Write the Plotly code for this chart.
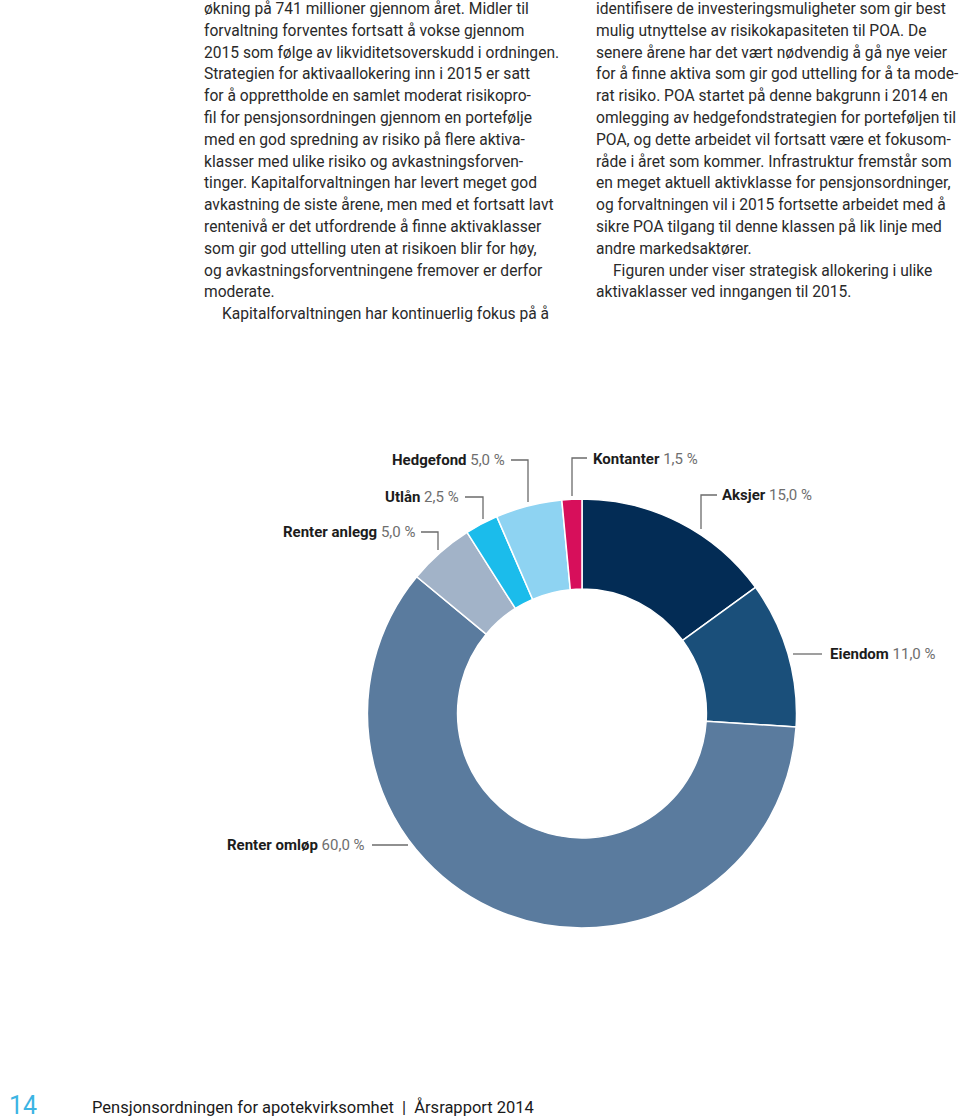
import plotly.graph_objects as go

W, H = 960, 1119

# allocation data
categories = ["Aksjer", "Eiendom", "Renter omløp", "Renter anlegg", "Utlån", "Hedgefond", "Kontanter"]
shares = [15.0, 11.0, 60.0, 5.0, 2.5, 5.0, 1.5]
colors = ["#032c55", "#1a4f7a", "#5a7b9e", "#a2b3c8", "#1bbceb", "#8ed3f2", "#d70f5b"]

left_col = [
    "økning på 741 millioner gjennom året. Midler til",
    "forvaltning forventes fortsatt å vokse gjennom",
    "2015 som følge av likviditetsoverskudd i ordningen.",
    "Strategien for aktivaallokering inn i 2015 er satt",
    "for å opprettholde en samlet moderat risikopro-",
    "fil for pensjonsordningen gjennom en portefølje",
    "med en god spredning av risiko på flere aktiva-",
    "klasser med ulike risiko og avkastningsforven-",
    "tinger. Kapitalforvaltningen har levert meget god",
    "avkastning de siste årene, men med et fortsatt lavt",
    "rentenivå er det utfordrende å finne aktivaklasser",
    "som gir god uttelling uten at risikoen blir for høy,",
    "og avkastningsforventningene fremover er derfor",
    "moderate.",
    "Kapitalforvaltningen har kontinuerlig fokus på å",
]
right_col = [
    "identifisere de investeringsmuligheter som gir best",
    "mulig utnyttelse av risikokapasiteten til POA. De",
    "senere årene har det vært nødvendig å gå nye veier",
    "for å finne aktiva som gir god uttelling for å ta mode-",
    "rat risiko. POA startet på denne bakgrunn i 2014 en",
    "omlegging av hedgefondstrategien for porteføljen til",
    "POA, og dette arbeidet vil fortsatt være et fokusom-",
    "råde i året som kommer. Infrastruktur fremstår som",
    "en meget aktuell aktivklasse for pensjonsordninger,",
    "og forvaltningen vil i 2015 fortsette arbeidet med å",
    "sikre POA tilgang til denne klassen på lik linje med",
    "andre markedsaktører.",
    "Figuren under viser strategisk allokering i ulike",
    "aktivaklasser ved inngangen til 2015.",
]
page_no = "14"
footer = "Pensjonsordningen for apotekvirksomhet  |  Årsrapport 2014"

# label placement (pixels): anchor x, y, side, leader polyline
label_pos = {
    "Aksjer": (720, 495, "left", [(717, 495), (701, 495), (701, 529)]),
    "Eiendom": (828, 654, "left", [(822, 654), (793, 654)]),
    "Renter omløp": (367, 845, "right", [(372, 845), (408, 845)]),
    "Renter anlegg": (417, 532, "right", [(421, 532), (438, 532), (438, 550)]),
    "Utlån": (461, 497, "right", [(465, 497), (483, 497), (483, 519)]),
    "Hedgefond": (507, 460, "right", [(511, 460), (528, 460), (528, 502)]),
    "Kontanter": (591, 459, "left", [(587, 458), (572, 458), (572, 496)]),
}

cx, cy, r = 582, 713.5, 214.5

fig = go.Figure()
fig.add_trace(go.Pie(
    labels=categories, values=shares, sort=False, direction="clockwise", rotation=0,
    hole=0.58, textinfo="none", hoverinfo="label+value",
    marker=dict(colors=colors, line=dict(color="white", width=1.5)),
    domain=dict(x=[(cx - r) / W, (cx + r) / W], y=[1 - (cy + r) / H, 1 - (cy - r) / H]),
    showlegend=False,
))

ann = []
body_font = dict(family="Roboto", size=15.6, color="#2a2a2a")
for i, line in enumerate(left_col):
    x0 = 220 if i == len(left_col) - 1 else 202
    ann.append(dict(x=x0, y=9 + i * 21.8, text=line, xanchor="left", yanchor="middle", font=body_font))
for i, line in enumerate(right_col):
    x0 = 611 if i == 12 else 594
    ann.append(dict(x=x0, y=9 + i * 21.8, text=line, xanchor="left", yanchor="middle", font=body_font))

for name, val in zip(categories, shares):
    lx, ly, side, pts = label_pos[name]
    pct = f"{val:.1f}".replace(".", ",") + " %"
    ann.append(dict(
        x=lx, y=ly, xanchor=side, yanchor="middle",
        text=f"<b>{name}</b> <span style='color:#6e6e6e'>{pct}</span>",
        font=dict(family="Roboto", size=15, color="#1c1c1c"),
    ))
    path = "M " + " L ".join(f"{px},{py}" for px, py in pts)
    fig.add_shape(type="path", path=path, xref="x", yref="y",
                  line=dict(color="#6b6b6b", width=1.3))

ann.append(dict(x=7, y=1105, text=page_no, xanchor="left", yanchor="middle",
                font=dict(family="Roboto", size=25, color="#3cb4e3")))
ann.append(dict(x=90, y=1107, text=footer, xanchor="left", yanchor="middle",
                font=dict(family="Roboto", size=16.5, color="#1a1a1a")))

for a in ann:
    a.update(xref="x", yref="y", showarrow=False)

fig.update_layout(
    width=W, height=H, margin=dict(l=0, r=0, t=0, b=0),
    paper_bgcolor="white", plot_bgcolor="white",
    xaxis=dict(range=[0, W], visible=False, fixedrange=True),
    yaxis=dict(range=[H, 0], visible=False, fixedrange=True),
    annotations=ann,
)
# the page body has a default 8px margin; drop it so the figure sits at the window origin
fig.write_html("out.html", config={"displayModeBar": False},
               post_script="document.body.style.margin='0px';")
